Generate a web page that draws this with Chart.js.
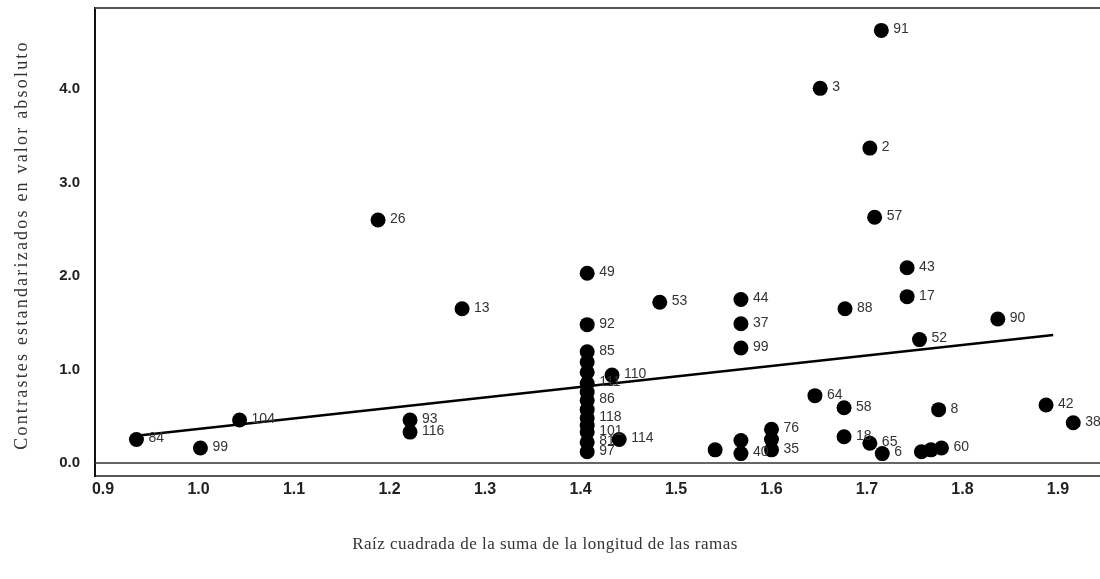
<!DOCTYPE html>
<html>
<head>
<meta charset="utf-8">
<script src="https://cdn.jsdelivr.net/npm/chart.js@4.4.1/dist/chart.umd.min.js"></script>
<style>
  html, body { margin: 0; padding: 0; background: #fff; }
  #contrastes { display: block; }
</style>
</head>
<body>
<canvas id="contrastes" width="1100" height="579"></canvas>
<script>
// raiz de la suma de ramas (x), contraste estandarizado absoluto (y), etiqueta del nodo
const ramas = [
  1.715, 1.651, 1.703, 1.708, 1.188, 1.742, 1.407, 1.742, 1.483, 1.568,
  1.276, 1.677, 1.837, 1.407, 1.568, 1.568, 1.755, 1.407, 1.433,
  1.407, 1.407, 1.407, 1.407, 1.407, 1.407, 1.407, 1.407, 1.407, 1.407, 1.407,
  1.043, 0.935, 1.002, 1.2215, 1.2215,
  1.6455, 1.676, 1.775, 1.8875, 1.916,
  1.4405, 1.541, 1.568, 1.568, 1.600, 1.600, 1.600,
  1.676, 1.703, 1.716, 1.757, 1.767, 1.778
];
const contrastes = [
  4.63, 4.01, 3.37, 2.63, 2.60, 2.09, 2.03, 1.78, 1.72, 1.75,
  1.65, 1.65, 1.54, 1.48, 1.49, 1.23, 1.32, 1.19, 0.94,
  1.08, 0.97, 0.85, 0.76, 0.67, 0.57, 0.48, 0.40, 0.33, 0.22, 0.12,
  0.46, 0.25, 0.16, 0.46, 0.33,
  0.72, 0.59, 0.57, 0.62, 0.43,
  0.25, 0.14, 0.24, 0.10, 0.36, 0.25, 0.14,
  0.28, 0.21, 0.10, 0.12, 0.14, 0.16
];
const nodos = [
  '91', '3', '2', '57', '26', '43', '49', '17', '53', '44',
  '13', '88', '90', '92', '37', '99', '52', '85', '110',
  '', '', '111', '', '86', '', '118', '', '101', '81', '97',
  '104', '84', '99', '93', '116',
  '64', '58', '8', '42', '38',
  '114', '', '', '40', '76', '', '35',
  '18', '65', '6', '', '', '60'
];

// recta de regresion (extremos)
const rectaX = [0.935, 1.895];
const rectaY = [0.29, 1.37];

const yTicks = [0, 1, 2, 3, 4];
const xTicks = [0.9, 1.0, 1.1, 1.2, 1.3, 1.4, 1.5, 1.6, 1.7, 1.8, 1.9];

const ctx = document.getElementById('contrastes');

const marco = {
  id: 'marco',
  beforeDatasetsDraw(chart) {
    const c = chart.ctx;
    const a = chart.chartArea;
    const y0 = chart.scales.y.getPixelForValue(0);
    c.save();
    c.strokeStyle = '#555';
    c.lineWidth = 2;
    c.beginPath();
    c.moveTo(a.left, a.top);
    c.lineTo(a.right, a.top);
    c.stroke();
    c.strokeStyle = '#333';
    c.lineWidth = 1.5;
    c.beginPath();
    c.moveTo(a.left, y0);
    c.lineTo(a.right, y0);
    c.stroke();
    c.restore();
  },
  afterDatasetsDraw(chart) {
    const c = chart.ctx;
    const sx = chart.scales.x;
    const sy = chart.scales.y;
    c.save();
    c.font = '14px "Liberation Sans", Arial, sans-serif';
    c.fillStyle = '#333';
    c.textBaseline = 'middle';
    nodos.forEach((t, i) => {
      if (!t) return;
      c.fillText(t, sx.getPixelForValue(ramas[i]) + 12, sy.getPixelForValue(contrastes[i]) - 1);
    });

    // titulos de los ejes
    c.fillStyle = '#333';
    c.textAlign = 'center';
    c.font = '17px "Liberation Serif", "Times New Roman", serif';
    c.letterSpacing = '0.5px';
    c.fillText('Raíz cuadrada de la suma de la longitud de las ramas', 545, 545);
    c.font = '18px "Liberation Serif", "Times New Roman", serif';
    c.letterSpacing = '2.2px';
    c.translate(22, 245);
    c.rotate(-Math.PI / 2);
    c.fillText('Contrastes estandarizados en valor absoluto', 0, 0);
    c.restore();
  }
};

new Chart(
  ctx,
  {
    type: 'scatter',
    data: {
      datasets: [
        {
          label: 'contrastes',
          data: ramas.map((x, i) => ({ x: x, y: contrastes[i] })),
          backgroundColor: '#000',
          borderWidth: 0,
          pointRadius: 7.5
        },
        {
          type: 'line',
          label: 'recta',
          data: rectaX.map((x, i) => ({ x: x, y: rectaY[i] })),
          borderColor: '#000',
          borderWidth: 2.5,
          pointRadius: 0,
          fill: false
        }
      ]
    },
    options: {
      responsive: false,
      animation: false,
      events: [],
      layout: { autoPadding: false, padding: { top: 8, left: 0, right: 0, bottom: 0 } },
      plugins: {
        legend: { display: false },
        tooltip: { enabled: false }
      },
      scales: {
        x: {
          type: 'linear',
          min: 0.8916,
          max: 1.944,
          afterFit: s => {
            s.height = 103;
            s.paddingLeft = 0;
            s.paddingRight = 0;
          },
          afterBuildTicks: s => { s.ticks = xTicks.map(v => ({ value: v })); },
          grid: { display: false, drawTicks: false },
          border: { display: true, color: '#555', width: 2 },
          ticks: {
            padding: 4,
            color: '#222',
            font: { family: '"Liberation Sans Narrow", "Liberation Sans", Arial, sans-serif', size: 16, weight: 'bold' },
            callback: v => v.toFixed(1)
          }
        },
        y: {
          type: 'linear',
          min: -0.14,
          max: 4.87,
          afterFit: s => {
            s.width = 95;
            s.paddingTop = 0;
            s.paddingBottom = 0;
          },
          afterBuildTicks: s => { s.ticks = yTicks.map(v => ({ value: v })); },
          grid: { display: false, drawTicks: false },
          border: { display: true, color: '#111', width: 2 },
          ticks: {
            padding: 15,
            color: '#222',
            font: { family: '"Liberation Sans Narrow", "Liberation Sans", Arial, sans-serif', size: 15, weight: 'bold' },
            callback: v => v.toFixed(1)
          }
        }
      }
    },
    plugins: [marco]
  }
);
</script>
</body>
</html>
